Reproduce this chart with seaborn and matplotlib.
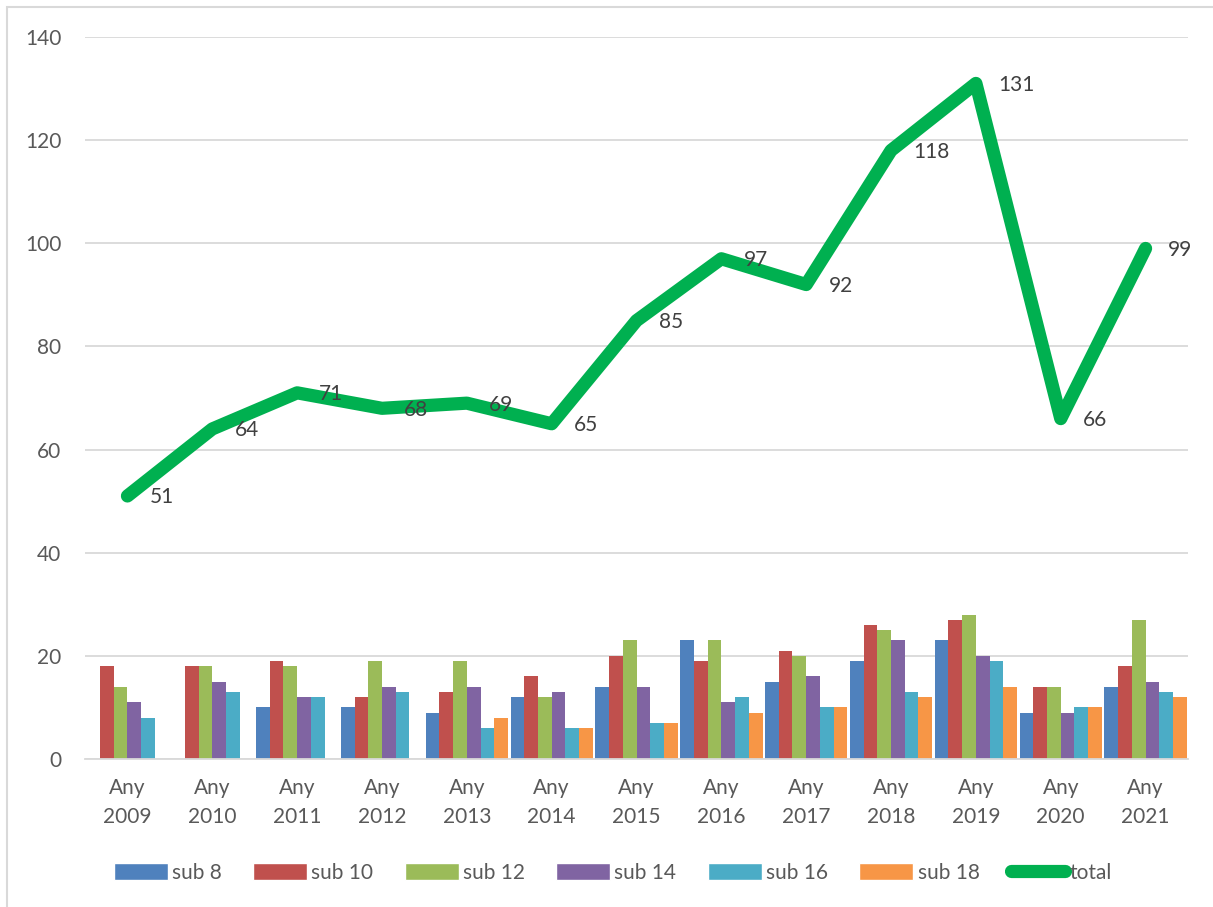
import numpy as np
import pandas as pd
import matplotlib
matplotlib.use("Agg")
import matplotlib.pyplot as plt
import seaborn as sns
from matplotlib.patches import Patch, Rectangle
from matplotlib.lines import Line2D

years = ["2009", "2010", "2011", "2012", "2013", "2014", "2015",
         "2016", "2017", "2018", "2019", "2020", "2021"]
tick_labels = ["Any\n" + y for y in years]
groups = ["sub 8", "sub 10", "sub 12", "sub 14", "sub 16", "sub 18"]

sub8 = [0, 0, 10, 10, 9, 12, 14, 23, 15, 19, 23, 9, 14]
sub10 = [18, 18, 19, 12, 13, 16, 20, 19, 21, 26, 27, 14, 18]
sub12 = [14, 18, 18, 19, 19, 12, 23, 23, 20, 25, 28, 14, 27]
sub14 = [11, 15, 12, 14, 14, 13, 14, 11, 16, 23, 20, 9, 15]
sub16 = [8, 13, 12, 13, 6, 6, 7, 12, 10, 13, 19, 10, 13]
sub18 = [0, 0, 0, 0, 8, 6, 7, 9, 10, 12, 14, 10, 12]
total = [51, 64, 71, 68, 69, 65, 85, 97, 92, 118, 131, 66, 99]

colors = ["#4F81BD", "#C0504D", "#9BBB59", "#8064A2", "#4BACC6", "#F79646"]
green = "#00B050"

rows = []
for g, vals in zip(groups, [sub8, sub10, sub12, sub14, sub16, sub18]):
    for y, v in zip(years, vals):
        rows.append({"year": y, "group": g, "value": v})
df = pd.DataFrame(rows)

sns.set_style("white")
plt.rcParams["font.family"] = ["Lato", "DejaVu Sans"]

fig = plt.figure(figsize=(12.13, 9.07), dpi=100)
ax = fig.add_axes([0.0701, 0.1632, 0.9093, 0.796])

sns.barplot(data=df, x="year", y="value", hue="group", order=years,
            hue_order=groups, palette=colors, width=0.97, saturation=1,
            linewidth=0, legend=False, ax=ax)

x = np.arange(len(years))
sns.lineplot(x=x, y=total, color=green, linewidth=9.5, ax=ax,
             solid_capstyle="round", solid_joinstyle="round")

for xi, t in zip(x, total):
    ax.annotate(str(t), (xi, t), xytext=(16, -1), textcoords="offset points",
                ha="left", va="center", fontsize=15, color="#404040")

ax.set_ylim(0, 140)
ax.set_xlim(-0.5, len(years) - 0.5)
ax.set_yticks(range(0, 141, 20))
ax.set_xticks(x)
ax.set_xticklabels(tick_labels, linespacing=1.55)
ax.yaxis.grid(True, color="#D9D9D9", linewidth=1.3)
ax.set_axisbelow(True)
for s in ["top", "right", "left"]:
    ax.spines[s].set_visible(False)
ax.spines["bottom"].set_color("#D9D9D9")
ax.spines["bottom"].set_linewidth(1.3)
ax.tick_params(axis="both", length=0, labelsize=15, labelcolor="#595959")
ax.tick_params(axis="y", pad=17)
ax.tick_params(axis="x", pad=14)
ax.set_xlabel("")
ax.set_ylabel("")

handles = [Patch(facecolor=c, label=g) for c, g in zip(colors, groups)]
handles.append(Line2D([0], [0], color=green, linewidth=9.5,
                      solid_capstyle="round", label="total"))
fig.legend(handles=handles, loc="center", bbox_to_anchor=(0.505, 0.038),
           ncol=7, frameon=False, fontsize=15, handlelength=2.6,
           handleheight=0.9, handletextpad=0.2, columnspacing=1.5,
           labelcolor="#595959")

fig.patches.append(Rectangle((7 / 1213, -0.1), 1.1, 1.1 - 7 / 907,
                             transform=fig.transFigure, fill=False,
                             edgecolor="#D9D9D9", linewidth=1.5))

fig.savefig("out.png", dpi=100)
